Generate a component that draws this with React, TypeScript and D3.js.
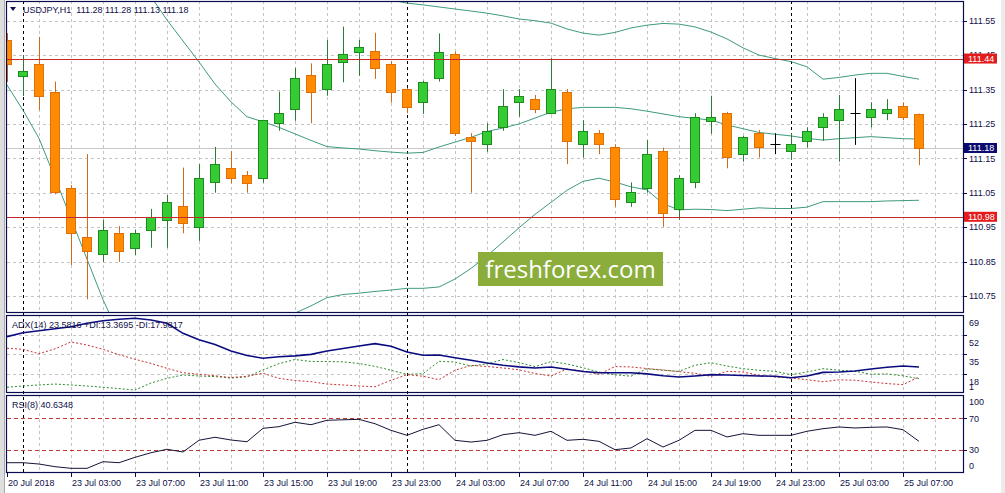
import React from 'react';
import * as d3 from 'd3';

const W = 1005;
const H = 493;

// ---- data ----
const timeLabels = [
  '20 Jul 2018', '23 Jul 03:00', '23 Jul 07:00', '23 Jul 11:00', '23 Jul 15:00', '23 Jul 19:00', '23 Jul 23:00',
  '24 Jul 03:00', '24 Jul 07:00', '24 Jul 11:00', '24 Jul 15:00', '24 Jul 19:00', '24 Jul 23:00',
  '25 Jul 03:00', '25 Jul 07:00',
];
const timeLabelIdx = [0, 4, 8, 12, 16, 20, 24, 28, 32, 36, 40, 44, 48, 52, 56];
const separatorIdx = [1, 25, 49];

const opens = [
  111.494, 111.390, 111.423, 111.342, 111.063, 110.920, 110.871, 110.932, 110.890, 110.941,
  110.970, 111.010, 110.951, 111.080, 111.121, 111.101, 111.092, 111.252, 111.292, 111.392,
  111.351, 111.431, 111.460, 111.462, 111.423, 111.351, 111.313, 111.383, 111.452, 111.213,
  111.191, 111.240, 111.313, 111.322, 111.281, 111.342, 111.191, 111.223, 111.182, 111.022,
  111.063, 111.171, 111.002, 111.080, 111.259, 111.281, 111.162, 111.223, 111.191, 111.171,
  111.201, 111.240, 111.261, 111.281, 111.271, 111.281, 111.302, 111.28,
];
const highs = [
  111.514, 111.450, 111.503, 111.373, 111.072, 111.162, 110.971, 110.953, 110.942, 111.003,
  111.043, 111.123, 111.133, 111.183, 111.171, 111.113, 111.262, 111.344, 111.413, 111.426,
  111.494, 111.533, 111.494, 111.515, 111.433, 111.355, 111.375, 111.513, 111.460, 111.223,
  111.252, 111.351, 111.351, 111.334, 111.441, 111.351, 111.261, 111.232, 111.191, 111.080,
  111.203, 111.181, 111.101, 111.281, 111.332, 111.285, 111.215, 111.232, 111.223, 111.223,
  111.240, 111.281, 111.334, 111.383, 111.313, 111.322, 111.313, 111.28,
];
const lows = [
  111.372, 111.331, 111.290, 111.045, 110.840, 110.740, 110.849, 110.849, 110.869, 110.890,
  110.890, 110.932, 110.910, 111.050, 111.077, 111.050, 111.079, 111.230, 111.259, 111.252,
  111.332, 111.371, 111.390, 111.381, 111.312, 111.281, 111.279, 111.373, 111.215, 111.050,
  111.169, 111.230, 111.271, 111.281, 111.278, 111.133, 111.152, 111.162, 111.009, 111.009,
  111.050, 110.951, 110.971, 111.063, 111.221, 111.121, 111.140, 111.152, 111.162, 111.145,
  111.181, 111.201, 111.140, 111.189, 111.240, 111.261, 111.261, 111.13,
];
const closes = [
  111.423, 111.404, 111.332, 111.051, 110.932, 110.880, 110.941, 110.880, 110.932, 110.980,
  111.022, 110.961, 111.092, 111.133, 111.092, 111.079, 111.261, 111.281, 111.383, 111.342,
  111.423, 111.453, 111.473, 111.412, 111.342, 111.300, 111.371, 111.460, 111.223, 111.201,
  111.230, 111.302, 111.332, 111.292, 111.351, 111.201, 111.230, 111.191, 111.031, 111.051,
  111.162, 110.990, 111.092, 111.271, 111.271, 111.153, 111.211, 111.182, 111.191, 111.191,
  111.230, 111.271, 111.292, 111.281, 111.292, 111.292, 111.271, 111.18,
];

const bbUpper = [
  112.35, 112.33, 112.35, 112.38, 112.45, 112.50, 112.55, 112.58, 112.60, 112.60,
  112.58, 112.50, 112.40, 112.30, 112.20, 112.10, 112.00, 111.92, 111.85, 111.78,
  111.72, 111.68, 111.65, 111.63, 111.61, 111.601, 111.596, 111.590, 111.584, 111.578,
  111.572, 111.564, 111.555, 111.550, 111.543, 111.526, 111.514, 111.508, 111.516, 111.529,
  111.537, 111.542, 111.540, 111.532, 111.517, 111.497, 111.471, 111.450, 111.440, 111.431,
  111.416, 111.380, 111.385, 111.392, 111.397, 111.397, 111.388, 111.380,
];
const bbMiddle = [
  111.86, 111.84, 111.82, 111.79, 111.76, 111.73, 111.70, 111.67, 111.65, 111.62,
  111.552, 111.491, 111.430, 111.366, 111.314, 111.271, 111.256, 111.240, 111.221, 111.202,
  111.184, 111.180, 111.177, 111.172, 111.168, 111.165, 111.167, 111.183, 111.197, 111.211,
  111.228, 111.238, 111.250, 111.267, 111.284, 111.294, 111.298, 111.298, 111.298, 111.294,
  111.287, 111.279, 111.271, 111.266, 111.261, 111.247, 111.236, 111.225, 111.220, 111.215,
  111.208, 111.203, 111.207, 111.210, 111.213, 111.210, 111.207, 111.206,
];
const bbLower = [
  111.363, 111.290, 111.208, 111.093, 110.975, 110.857, 110.739, 110.64, 110.58, 110.55,
  110.54, 110.54, 110.55, 110.57, 110.59, 110.62, 110.65, 110.68, 110.70, 110.721,
  110.745, 110.754, 110.758, 110.763, 110.767, 110.772, 110.772, 110.776, 110.799, 110.830,
  110.866, 110.907, 110.948, 110.987, 111.022, 111.057, 111.083, 111.092, 111.081, 111.067,
  111.058, 111.018, 111.000, 111.002, 111.001, 110.998, 111.002, 111.006, 111.004, 111.004,
  111.008, 111.024, 111.024, 111.024, 111.024, 111.026, 111.027, 111.028,
];

const adx = [
  50.1, 53.6, 55.2, 57.0, 58.7, 61.8, 64.0, 65.3, 66.1, 64.6,
  61.8, 53.0, 47.4, 43.3, 37.6, 33.7, 31.3, 32.6, 33.4, 34.7,
  37.6, 39.8, 42.0, 44.0, 41.7, 36.7, 33.9, 34.1, 31.8, 29.5,
  27.2, 25.2, 23.8, 22.8, 23.7, 21.7, 19.7, 18.7, 18.7, 18.7,
  17.7, 16.1, 14.9, 15.8, 17.0, 16.7, 16.2, 15.8, 15.6, 14.3,
  15.8, 19.0, 19.3, 20.2, 21.9, 23.5, 24.5, 23.6,
];
const plusDI = [
  6.0, 7.1, 8.0, 8.8, 8.0, 7.1, 6.0, 4.8, 3.6, 9.7,
  13.8, 16.7, 15.8, 15.3, 14.0, 15.1, 21.1, 26.6, 30.2, 28.5,
  28.4, 28.2, 26.7, 24.2, 20.8, 17.3, 17.8, 28.6, 28.0, 24.5,
  26.3, 30.2, 27.5, 24.0, 28.4, 26.3, 23.0, 19.3, 16.9, 15.6,
  22.2, 20.8, 19.9, 25.2, 27.4, 24.5, 22.2, 20.8, 19.9, 17.0,
  19.3, 22.2, 20.9, 19.9, 17.4, 17.6, 16.0, 13.4,
];
const minusDI = [
  40.0, 39.1, 35.2, 39.5, 45.5, 42.8, 39.1, 34.4, 30.4, 26.8,
  22.5, 18.7, 17.3, 16.0, 14.5, 15.6, 18.2, 13.8, 11.9, 10.9,
  8.8, 8.0, 7.1, 6.4, 12.1, 17.0, 15.6, 12.6, 20.8, 25.1,
  24.1, 22.8, 21.2, 18.0, 15.8, 21.9, 20.1, 17.3, 24.1, 23.7,
  22.3, 21.1, 19.6, 18.2, 15.5, 19.9, 19.3, 16.4, 14.9, 14.1,
  12.6, 10.8, 12.5, 12.1, 10.6, 9.2, 8.3, 15.0,
];
const rsi = [
  13.2, 13.2, 11.5, 8.1, 6.0, 6.0, 14.5, 13.2, 20.1, 26.0,
  30.4, 26.9, 42.0, 45.8, 42.3, 40.1, 57.3, 59.4, 65.0, 61.9,
  67.6, 68.2, 68.8, 63.2, 54.7, 48.3, 56.0, 61.9, 41.9, 39.7,
  41.9, 49.1, 51.7, 48.3, 53.5, 41.9, 43.2, 40.6, 29.9, 32.1,
  44.0, 33.3, 41.9, 54.7, 54.7, 46.2, 50.4, 48.3, 48.3, 48.3,
  53.5, 56.8, 59.0, 57.7, 58.6, 59.0, 55.5, 40.6,
];

const priceTicks = [111.55, 111.45, 111.35, 111.25, 111.15, 111.05, 110.95, 110.85, 110.75];
const levelLines = [111.44, 110.98];
const lastPrice = 111.18;
const adxTicks = [69, 52, 35, 18, 1];
const adxGrid = [52, 35, 18];
const rsiTicks = [100, 70, 30, 0];
const rsiLevels = [70, 30];

const headerText = 'USDJPY,H1  111.28 111.28 111.13 111.18';
const adxText = 'ADX(14) 23.5816 +DI:13.3695 -DI:17.9817';
const rsiText = 'RSI(8) 40.6348';
const watermark = 'freshforex.com';

// ---- layout ----
const PL = 7;
const PR = 963;
const MAIN = { top: 1, bottom: 313 };
const ADXP = { top: 315, bottom: 393 };
const RSIP = { top: 395, bottom: 473 };
const FONT = 'Liberation Sans, Arial, sans-serif';
const TXT = '#10104a';
const GRID = '#c4c4c4';

const snap = (v: number) => Math.round(v) + 0.5;

export default function App() {
  const x = d3.scaleLinear().domain([0, 57]).range([7, 919]);
  const y = d3.scaleLinear().domain([110.75, 111.55]).range([295.9, 20.7]);
  const ay = d3.scaleLinear().domain([1, 69]).range([ADXP.bottom, ADXP.top]);
  const ry = d3.scaleLinear().domain([0, 100]).range([RSIP.bottom, RSIP.top]);

  const idx = d3.range(opens.length);
  const gridIdx = d3.range(2, 59, 2);

  const mk = (scale: d3.ScaleLinear<number, number>) =>
    d3.line<number>().x((_, i) => x(i)).y((v) => scale(v));

  const priceLine = mk(y);
  const adxLine = mk(ay);
  const rsiLine = mk(ry);

  const panels = [MAIN, ADXP, RSIP];

  return (
    <svg width={W} height={H} style={{ position: 'absolute', left: 0, top: 0, display: 'block', background: '#fff' }}
      fontFamily={FONT}>
      <defs>
        <clipPath id="cMain"><rect x={PL} y={MAIN.top} width={PR - PL} height={MAIN.bottom - MAIN.top} /></clipPath>
        <clipPath id="cAdx"><rect x={PL} y={ADXP.top} width={PR - PL} height={ADXP.bottom - ADXP.top} /></clipPath>
        <clipPath id="cRsi"><rect x={PL} y={RSIP.top} width={PR - PL} height={RSIP.bottom - RSIP.top} /></clipPath>
      </defs>

      {/* window edges */}
      <rect x={0} y={0} width={4} height={H} fill="#dedede" />
      <line x1={4.5} x2={4.5} y1={0} y2={H} stroke="#a8a8a8" />
      <rect x={1001} y={0} width={4} height={H} fill="#ececec" />

      {/* vertical grid */}
      {panels.map((p, k) => (
        <g key={'vg' + k}>
          {gridIdx.map((i) => (
            <line key={i} x1={snap(x(i))} x2={snap(x(i))} y1={p.top} y2={p.bottom}
              stroke={GRID} strokeDasharray="3,3" />
          ))}
        </g>
      ))}

      {/* horizontal grid main */}
      {priceTicks.map((p) => (
        <line key={'hg' + p} x1={PL} x2={PR} y1={snap(y(p))} y2={snap(y(p))} stroke={GRID} strokeDasharray="3,3" />
      ))}
      {adxGrid.map((v) => (
        <line key={'ag' + v} x1={PL} x2={PR} y1={snap(ay(v))} y2={snap(ay(v))} stroke={GRID} strokeDasharray="3,3" />
      ))}

      {/* bid line */}
      <line x1={PL} x2={PR} y1={snap(y(lastPrice))} y2={snap(y(lastPrice))} stroke="#c8c8c8" />

      {/* period separators */}
      {separatorIdx.map((i) => (
        <line key={'sep' + i} x1={snap(x(i))} x2={snap(x(i))} y1={MAIN.top} y2={RSIP.bottom}
          stroke="#000" strokeDasharray="3,3" />
      ))}

      {/* main panel content */}
      <g clipPath="url(#cMain)">
        {[bbUpper, bbMiddle, bbLower].map((arr, k) => (
          <path key={'bb' + k} d={priceLine(arr) || ''} fill="none" stroke="#3f9a80" strokeWidth={1} />
        ))}
        {idx.map((i) => {
          const o = opens[i];
          const c = closes[i];
          const cx = snap(x(i));
          const bull = c > o;
          const bear = c < o;
          const t = Math.round(y(Math.max(o, c)));
          const b = Math.round(y(Math.min(o, c)));
          const wick = bull ? '#2a7d2a' : bear ? '#cf6a1c' : '#000';
          return (
            <g key={'c' + i}>
              <line x1={cx} x2={cx} y1={y(highs[i])} y2={y(lows[i])} stroke={wick} />
              {bull || bear ? (
                <rect x={cx - 5} y={t + 0.5} width={9} height={Math.max(1, b - t)}
                  fill={bull ? '#33cc33' : '#ff8c00'} stroke={bull ? '#1f8a1f' : '#e0700a'} />
              ) : (
                <line x1={cx - 5} x2={cx + 5} y1={t + 0.5} y2={t + 0.5} stroke="#000" />
              )}
            </g>
          );
        })}
        {levelLines.map((p) => (
          <line key={'lv' + p} x1={PL} x2={PR} y1={snap(y(p))} y2={snap(y(p))} stroke="#c42a2a" />
        ))}
        {/* watermark */}
        <rect x={478} y={252} width={185} height={34} fill="#8aad3b" />
        <text x={570.5} y={278} textAnchor="middle" fill="#fff" fontSize={24}
          fontFamily="Open Sans, Noto Sans, sans-serif">{watermark}</text>
      </g>

      {/* ADX panel */}
      <g clipPath="url(#cAdx)">
        <path d={adxLine(plusDI) || ''} fill="none" stroke="#2e8b2e" strokeDasharray="2,2" />
        <path d={adxLine(minusDI) || ''} fill="none" stroke="#c83232" strokeDasharray="2,2" />
        <path d={adxLine(adx) || ''} fill="none" stroke="#0b0b80" strokeWidth={1.6} />
      </g>

      {/* RSI panel */}
      <g clipPath="url(#cRsi)">
        {rsiLevels.map((v) => (
          <line key={'rl' + v} x1={PL} x2={PR} y1={snap(ry(v))} y2={snap(ry(v))} stroke="#c43a3a" strokeDasharray="4,3" />
        ))}
        <path d={rsiLine(rsi) || ''} fill="none" stroke="#141438" strokeWidth={1} />
      </g>

      {/* frames */}
      {panels.map((p, k) => (
        <rect key={'fr' + k} x={PL - 0.5} y={p.top + 0.5} width={PR - PL + 1} height={p.bottom - p.top - 1}
          fill="none" stroke="#0a0a50" strokeWidth={1.2} />
      ))}

      {/* header & indicator labels */}
      <path d="M10,7 L16,7 L13,11 Z" fill="#10104a" />
      <text x={23} y={13} fontSize={9} fill={TXT} style={{ whiteSpace: 'pre' }}>{headerText}</text>
      <text x={12} y={328} fontSize={9} fill={TXT}>{adxText}</text>
      <text x={12} y={408} fontSize={9} fill={TXT}>{rsiText}</text>

      {/* price axis */}
      {priceTicks.map((p) => (
        <g key={'pt' + p}>
          <line x1={PR} x2={PR + 4} y1={snap(y(p))} y2={snap(y(p))} stroke="#0a0a50" />
          <text x={969} y={y(p) + 3.3} fontSize={9} fill={TXT}>{p.toFixed(2)}</text>
        </g>
      ))}
      {levelLines.map((p) => (
        <g key={'tag' + p}>
          <rect x={964} y={y(p) - 5} width={33} height={10} fill="#e41b1b" />
          <text x={968} y={y(p) + 3.3} fontSize={9} fill="#fff">{p.toFixed(2)}</text>
        </g>
      ))}
      <rect x={964} y={y(lastPrice) - 5} width={33} height={10} fill="#0a0a6e" />
      <text x={968} y={y(lastPrice) + 3.3} fontSize={9} fill="#fff">{lastPrice.toFixed(2)}</text>

      {/* ADX axis */}
      {adxGrid.map((v) => (
        <line key={'at' + v} x1={PR} x2={PR + 4} y1={snap(ay(v))} y2={snap(ay(v))} stroke="#0a0a50" />
      ))}
      {adxTicks.map((v) => (
        <text key={'al' + v} x={969} y={Math.min(Math.max(ay(v) + 8, ADXP.top + 8), ADXP.bottom - 6) + 3.3}
          fontSize={9} fill={TXT}>{v}</text>
      ))}

      {/* RSI axis */}
      {rsiLevels.map((v) => (
        <line key={'rt' + v} x1={PR} x2={PR + 4} y1={snap(ry(v))} y2={snap(ry(v))} stroke="#0a0a50" />
      ))}
      {rsiTicks.map((v) => (
        <text key={'rlb' + v} x={969} y={Math.min(Math.max(ry(v), RSIP.top + 7), RSIP.bottom - 7) + 3.3}
          fontSize={9} fill={TXT}>{v}</text>
      ))}

      {/* time axis */}
      {timeLabelIdx.map((i, k) => (
        <g key={'tl' + i}>
          <line x1={snap(x(i))} x2={snap(x(i))} y1={RSIP.bottom} y2={RSIP.bottom + 4} stroke="#0a0a50" />
          <text x={x(i) + 1} y={486} fontSize={9} fill={TXT}>{timeLabels[k]}</text>
        </g>
      ))}
    </svg>
  );
}
